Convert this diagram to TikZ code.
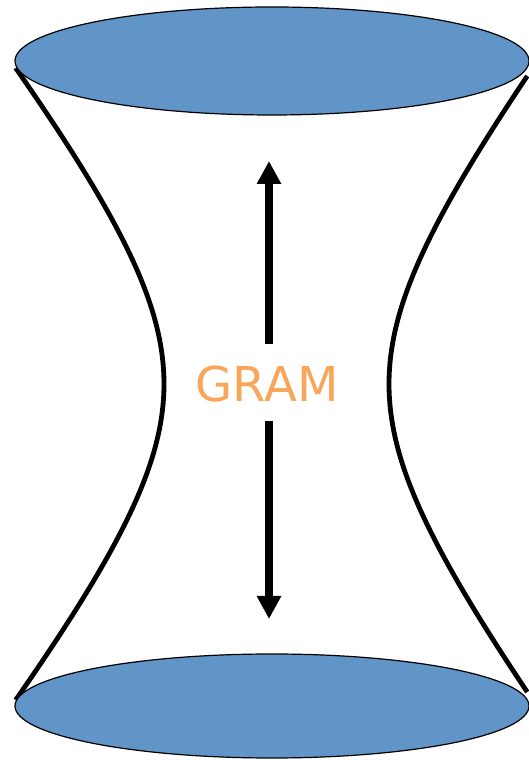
\documentclass[tikz,border=0pt]{standalone}
\usepackage{fontspec}
\setmainfont{DejaVu Sans}
\usetikzlibrary{arrows.meta}
\definecolor{DiskBlue}{RGB}{97,149,199}
\definecolor{GramOrange}{RGB}{249,166,90}

\begin{document}
\begin{tikzpicture}[x=1pt, y=1pt,
    disk/.style={draw=black, line width=1.2pt, fill=DiskBlue},
    wall/.style={line width=4.8pt, line join=round},
    flow/.style={line width=8pt, -{Triangle[width=23pt, length=23pt]}}]
  \useasboundingbox (0,0) rectangle (529,760);
  \draw[wall] plot[domain=-316:316, samples=80, smooth]
    ({164 - 139.4*(sqrt(1+(\x/175)^2)-1)}, {376+\x});
  \draw[wall] plot[domain=-308:308, samples=80, smooth]
    ({389 + 135*(sqrt(1+(\x/175)^2)-1)}, {376+\x});
  \draw[disk] (272,699) ellipse [x radius=257, y radius=54];
  \draw[disk] (272,54) ellipse [x radius=257, y radius=52];
  \node[text=GramOrange, font=\fontsize{48}{50}\selectfont, inner sep=0pt] (gram) at (267,376) {GRAM};
  \coordinate (upStart) at (269,416);
  \coordinate (upTip) at (269,599);
  \coordinate (downStart) at (269,339);
  \coordinate (downTip) at (269,141);
  \draw[flow] (upStart) -- (upTip);
  \draw[flow] (downStart) -- (downTip);
\end{tikzpicture}
\end{document}
